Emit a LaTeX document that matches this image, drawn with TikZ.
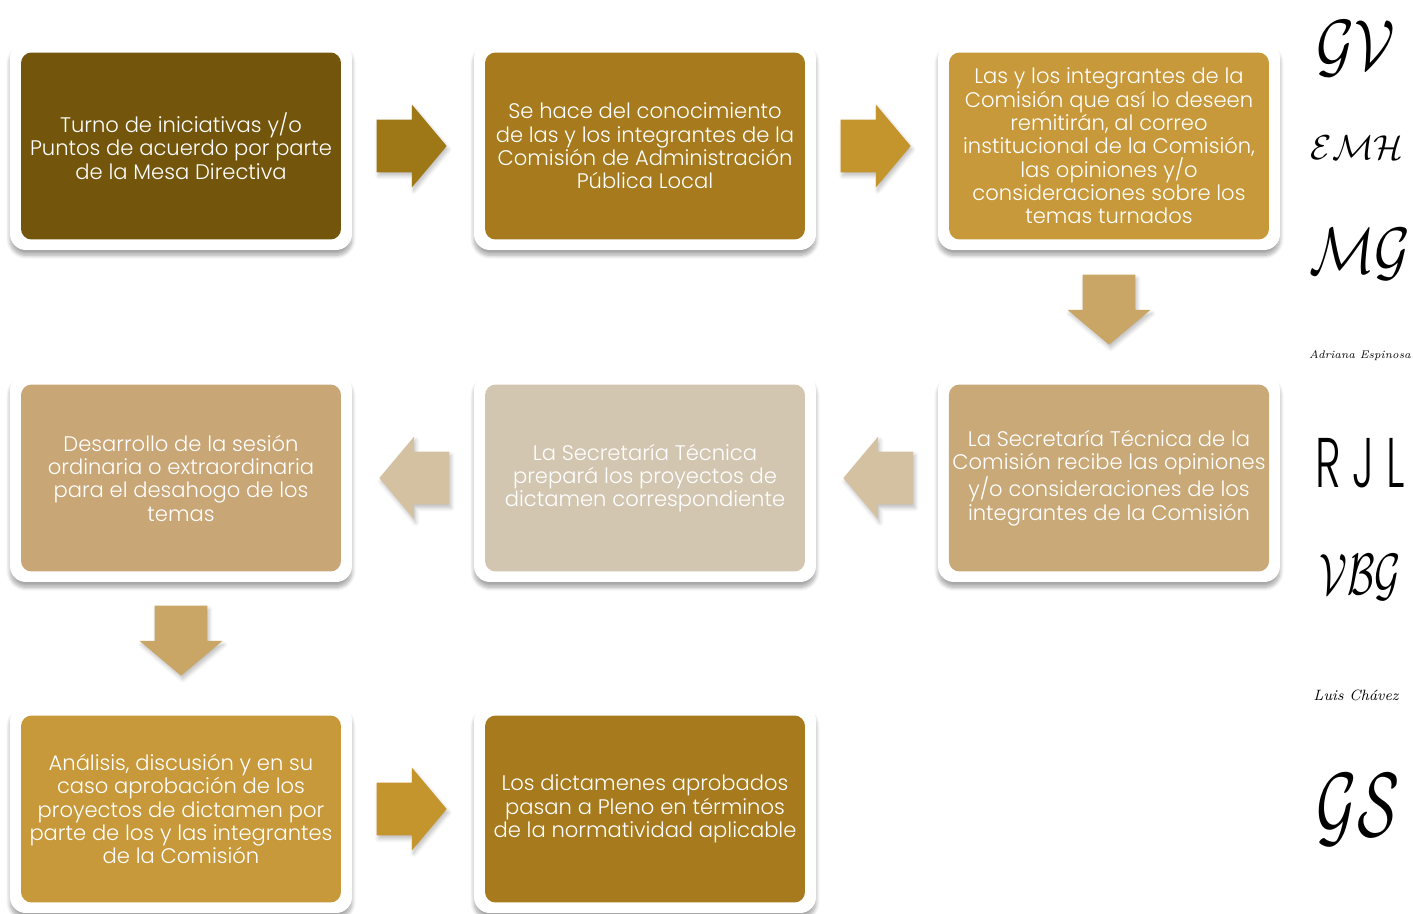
\documentclass[tikz,border=0pt]{standalone}
\usepackage{fontspec}
\setmainfont{Poppins}[UprightFont={* Light}]
\newfontfamily\firma{Latin Modern Roman}
\usetikzlibrary{shapes.arrows, shadows.blur, positioning, calc}
\definecolor{cafeA}{HTML}{73560C}
\definecolor{cafeB}{HTML}{A67A1D}
\definecolor{cafeC}{HTML}{C8993A}
\definecolor{arenaA}{HTML}{C9A978}
\definecolor{arenaB}{HTML}{D3C6B1}
\definecolor{arenaC}{HTML}{C9A676}
\definecolor{flechaA}{HTML}{9E7716}
\definecolor{flechaB}{HTML}{C4952C}
\definecolor{flechaC}{HTML}{C9A665}
\definecolor{flechaD}{HTML}{D4C1A2}
\tikzset{
  marco/.style={
    rectangle, fill=white, rounded corners=9pt, minimum width=6.84cm, minimum height=4.16cm,
    blur shadow={shadow xshift=0pt, shadow yshift=-3pt, shadow opacity=35, shadow blur steps=8}
  },
  paso/.style={
    rectangle, rounded corners=6pt, minimum width=6.4cm, minimum height=3.74cm,
    align=center, text=white, inner sep=2pt, font=\fontsize{12}{13.3}\selectfont
  },
  flecha/.style={
    single arrow, draw=none, inner xsep=0pt, inner ysep=0.52cm, minimum height=1.4cm, anchor=tail,
    single arrow head extend=0.3cm, single arrow tip angle=100,
    blur shadow={shadow xshift=1pt, shadow yshift=-2pt, shadow opacity=25, shadow blur steps=5}
  },
  flechav/.style={flecha, inner xsep=0.52cm, inner ysep=0pt, shape border rotate=270},
  firmanodo/.style={inner sep=0pt, text=black, transform shape, font=\fontsize{20}{20}\selectfont}
}

\begin{document}
\begin{tikzpicture}[x=0.02cm, y=-0.02cm]
    \useasboundingbox (0,0) rectangle (1413,913);
    
    % Fila 1
    \node[marco] (m1) at (181,146) {};
    \node[paso, fill=cafeA] (p1) at (m1.center) {Turno de iniciativas y/o\\Puntos de acuerdo por parte\\de la Mesa Directiva};
    \node[marco] (m2) at (645,146) {};
    \node[paso, fill=cafeB] (p2) at (m2.center) {Se hace del conocimiento\\de las y los integrantes de la\\Comisión de Administración\\Pública Local};
    \node[marco] (m3) at (1109,146) {};
    \node[paso, fill=cafeC] (p3) at (m3.center) {Las y los integrantes de la\\Comisión que así lo deseen\\remitirán, al correo\\institucional de la Comisión,\\las opiniones y/o\\consideraciones sobre los\\temas turnados};
    
    % Fila 2
    \node[marco] (m4) at (1109,478) {};
    \node[paso, fill=arenaA] (p4) at (m4.center) {La Secretaría Técnica de la\\Comisión recibe las opiniones\\y/o consideraciones de los\\integrantes de la Comisión};
    \node[marco] (m5) at (645,478) {};
    \node[paso, fill=arenaB] (p5) at (m5.center) {La Secretaría Técnica\\prepará los proyectos de\\dictamen correspondiente};
    \node[marco] (m6) at (181,478) {};
    \node[paso, fill=arenaC] (p6) at (m6.center) {Desarrollo de la sesión\\ordinaria o extraordinaria\\para el desahogo de los\\temas};
    
    % Fila 3
    \node[marco] (m7) at (181,809) {};
    \node[paso, fill=cafeC] (p7) at (m7.center) {Análisis, discusión y en su\\caso aprobación de los\\proyectos de dictamen por\\parte de los y las integrantes\\de la Comisión};
    \node[marco] (m8) at (645,809) {};
    \node[paso, fill=cafeB] (p8) at (m8.center) {Los dictamenes aprobados\\pasan a Pleno en términos\\de la normatividad aplicable};
    
    % Flechas
    \node[flecha, fill=flechaA] (f12) at ($(m1.east)+(24,0)$) {};
    \node[flecha, fill=flechaB] (f23) at ($(m2.east)+(24,0)$) {};
    \node[flechav, fill=flechaC] (f34) at ($(m3.south)+(0,24)$) {};
    \node[flecha, fill=flechaD, shape border rotate=180] (f45) at ($(m4.west)+(-24,0)$) {};
    \node[flecha, fill=flechaD, shape border rotate=180] (f56) at ($(m5.west)+(-24,0)$) {};
    \node[flechav, fill=flechaC] (f67) at ($(m6.south)+(0,23)$) {};
    \node[flecha, fill=flechaB] (f78) at ($(m7.east)+(24,0)$) {};
    
    % Firmas
    \node[firmanodo, xscale=1.6, yscale=1.95] (s1) at (1356,49) {$\mathcal{GV}$};
    \node[firmanodo, scale=0.95] (s2) at (1357,148) {$\mathcal{EMH}$};
    \node[firmanodo, xscale=1.5, yscale=1.8] (s3) at (1360,254) {$\mathcal{MG}$};
    \node[firmanodo, font=\firma\itshape\fontsize{6.3}{7}\selectfont] (s4) at (1360,356) {Adriana Espinosa};
    \node[firmanodo, xscale=0.62, font=\fontsize{40}{40}\selectfont] (s5) at (1360,463) {R J L};
    \node[firmanodo, xscale=1.1, yscale=1.6] (s6) at (1360,577) {$\mathcal{VBG}$};
    \node[firmanodo, font=\firma\itshape\fontsize{8.5}{9}\selectfont] (s7) at (1356,695) {Luis Chávez};
    \node[firmanodo, xscale=1.7, yscale=2.5] (s8) at (1358,810) {$\mathcal{GS}$};
    
\end{tikzpicture}
\end{document}
